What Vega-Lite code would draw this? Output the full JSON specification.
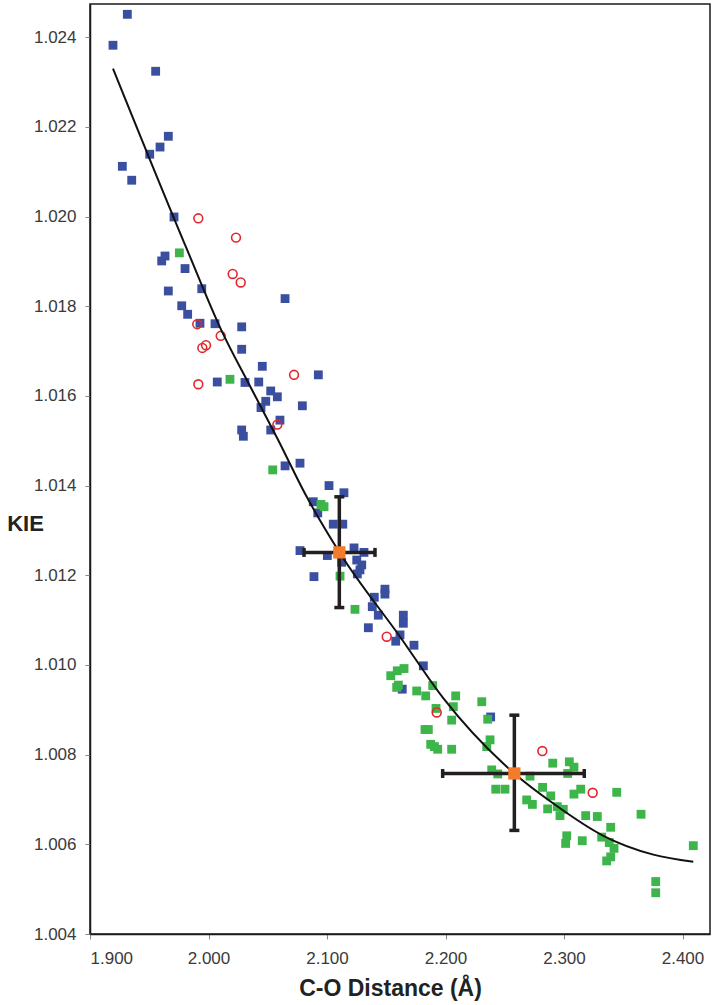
{
  "$schema": "https://vega.github.io/schema/vega-lite/v6.json",
  "width": 620,
  "height": 930,
  "autosize": {"type": "none"},
  "padding": {"left": 90, "top": 4, "right": 6, "bottom": 71},
  "background": "white",
  "config": {
    "font": "Liberation Sans",
    "view": {"stroke": "#1a1a1a", "strokeWidth": 1.5},
    "axis": {
      "grid": false,
      "domainColor": "#1a1a1a",
      "domainWidth": 1.5,
      "tickColor": "#888888",
      "tickSize": 5,
      "labelFont": "Liberation Sans",
      "labelFontSize": 17,
      "labelColor": "#3a3a3a",
      "titleFont": "Liberation Sans",
      "titleFontWeight": "bold",
      "titleColor": "#222222",
      "titleFontSize": 23
    }
  },
  "datasets": {
    "pts": [
      {"d": 1.9315, "k": 1.02451, "s": "A"},
      {"d": 1.9194, "k": 1.02382, "s": "A"},
      {"d": 1.9554, "k": 1.02324, "s": "A"},
      {"d": 1.9661, "k": 1.02179, "s": "A"},
      {"d": 1.9591, "k": 1.02155, "s": "A"},
      {"d": 1.9504, "k": 1.02139, "s": "A"},
      {"d": 1.9273, "k": 1.02112, "s": "A"},
      {"d": 1.9352, "k": 1.02081, "s": "A"},
      {"d": 1.9709, "k": 1.01999, "s": "A"},
      {"d": 1.9633, "k": 1.01912, "s": "A"},
      {"d": 1.9605, "k": 1.01901, "s": "A"},
      {"d": 1.9802, "k": 1.01884, "s": "A"},
      {"d": 1.9661, "k": 1.01834, "s": "A"},
      {"d": 1.9943, "k": 1.01839, "s": "A"},
      {"d": 2.0646, "k": 1.01817, "s": "A"},
      {"d": 1.9774, "k": 1.01801, "s": "A"},
      {"d": 1.9824, "k": 1.01782, "s": "A"},
      {"d": 1.9928, "k": 1.01762, "s": "A"},
      {"d": 2.0055, "k": 1.01761, "s": "A"},
      {"d": 2.0280, "k": 1.01754, "s": "A"},
      {"d": 2.0280, "k": 1.01704, "s": "A"},
      {"d": 2.0454, "k": 1.01666, "s": "A"},
      {"d": 2.0927, "k": 1.01647, "s": "A"},
      {"d": 2.0074, "k": 1.01631, "s": "A"},
      {"d": 2.0308, "k": 1.01630, "s": "A"},
      {"d": 2.0424, "k": 1.01631, "s": "A"},
      {"d": 2.0525, "k": 1.01611, "s": "A"},
      {"d": 2.0581, "k": 1.01598, "s": "A"},
      {"d": 2.0483, "k": 1.01588, "s": "A"},
      {"d": 2.0443, "k": 1.01574, "s": "A"},
      {"d": 2.0792, "k": 1.01578, "s": "A"},
      {"d": 2.0603, "k": 1.01546, "s": "A"},
      {"d": 2.0525, "k": 1.01524, "s": "A"},
      {"d": 2.0280, "k": 1.01524, "s": "A"},
      {"d": 2.0294, "k": 1.01510, "s": "A"},
      {"d": 2.0646, "k": 1.01444, "s": "A"},
      {"d": 2.0772, "k": 1.01450, "s": "A"},
      {"d": 2.1017, "k": 1.01400, "s": "A"},
      {"d": 2.1143, "k": 1.01384, "s": "A"},
      {"d": 2.0884, "k": 1.01364, "s": "A"},
      {"d": 2.0922, "k": 1.01339, "s": "A"},
      {"d": 2.1053, "k": 1.01314, "s": "A"},
      {"d": 2.1133, "k": 1.01314, "s": "A"},
      {"d": 2.0772, "k": 1.01255, "s": "A"},
      {"d": 2.1228, "k": 1.01261, "s": "A"},
      {"d": 2.1312, "k": 1.01251, "s": "A"},
      {"d": 2.1003, "k": 1.01244, "s": "A"},
      {"d": 2.1124, "k": 1.01229, "s": "A"},
      {"d": 2.1251, "k": 1.01234, "s": "A"},
      {"d": 2.1293, "k": 1.01223, "s": "A"},
      {"d": 2.1278, "k": 1.01212, "s": "A"},
      {"d": 2.1256, "k": 1.01203, "s": "A"},
      {"d": 2.0890, "k": 1.01197, "s": "A"},
      {"d": 2.1489, "k": 1.01169, "s": "A"},
      {"d": 2.1489, "k": 1.01158, "s": "A"},
      {"d": 2.1399, "k": 1.01151, "s": "A"},
      {"d": 2.1382, "k": 1.01130, "s": "A"},
      {"d": 2.1433, "k": 1.01111, "s": "A"},
      {"d": 2.1644, "k": 1.01111, "s": "A"},
      {"d": 2.1644, "k": 1.01093, "s": "A"},
      {"d": 2.1349, "k": 1.01083, "s": "A"},
      {"d": 2.1616, "k": 1.01067, "s": "A"},
      {"d": 2.1580, "k": 1.01053, "s": "A"},
      {"d": 2.1734, "k": 1.01044, "s": "A"},
      {"d": 2.1813, "k": 1.00998, "s": "A"},
      {"d": 2.1635, "k": 1.00946, "s": "A"},
      {"d": 2.2381, "k": 1.00884, "s": "A"},
      {"d": 1.9914, "k": 1.01996, "s": "B"},
      {"d": 2.0232, "k": 1.01953, "s": "B"},
      {"d": 2.0204, "k": 1.01872, "s": "B"},
      {"d": 2.0272, "k": 1.01853, "s": "B"},
      {"d": 1.9905, "k": 1.01760, "s": "B"},
      {"d": 2.0103, "k": 1.01734, "s": "B"},
      {"d": 1.9979, "k": 1.01713, "s": "B"},
      {"d": 1.9948, "k": 1.01707, "s": "B"},
      {"d": 2.0722, "k": 1.01647, "s": "B"},
      {"d": 1.9914, "k": 1.01626, "s": "B"},
      {"d": 2.0581, "k": 1.01536, "s": "B"},
      {"d": 2.1504, "k": 1.01063, "s": "B"},
      {"d": 2.1926, "k": 1.00894, "s": "B"},
      {"d": 2.2817, "k": 1.00808, "s": "B"},
      {"d": 2.3242, "k": 1.00715, "s": "B"},
      {"d": 1.9754, "k": 1.01919, "s": "C"},
      {"d": 2.0181, "k": 1.01637, "s": "C"},
      {"d": 2.0542, "k": 1.01435, "s": "C"},
      {"d": 2.0949, "k": 1.01358, "s": "C"},
      {"d": 2.0975, "k": 1.01353, "s": "C"},
      {"d": 2.1110, "k": 1.01198, "s": "C"},
      {"d": 2.1236, "k": 1.01124, "s": "C"},
      {"d": 2.1593, "k": 1.00987, "s": "C"},
      {"d": 2.1650, "k": 1.00992, "s": "C"},
      {"d": 2.1538, "k": 1.00976, "s": "C"},
      {"d": 2.1602, "k": 1.00955, "s": "C"},
      {"d": 2.1588, "k": 1.00950, "s": "C"},
      {"d": 2.1757, "k": 1.00942, "s": "C"},
      {"d": 2.1833, "k": 1.00931, "s": "C"},
      {"d": 2.1892, "k": 1.00954, "s": "C"},
      {"d": 2.2086, "k": 1.00931, "s": "C"},
      {"d": 2.2306, "k": 1.00918, "s": "C"},
      {"d": 2.2066, "k": 1.00907, "s": "C"},
      {"d": 2.1920, "k": 1.00903, "s": "C"},
      {"d": 2.2356, "k": 1.00879, "s": "C"},
      {"d": 2.2052, "k": 1.00877, "s": "C"},
      {"d": 2.1827, "k": 1.00856, "s": "C"},
      {"d": 2.1855, "k": 1.00856, "s": "C"},
      {"d": 2.2376, "k": 1.00833, "s": "C"},
      {"d": 2.1875, "k": 1.00823, "s": "C"},
      {"d": 2.1906, "k": 1.00818, "s": "C"},
      {"d": 2.1934, "k": 1.00812, "s": "C"},
      {"d": 2.2052, "k": 1.00812, "s": "C"},
      {"d": 2.2348, "k": 1.00818, "s": "C"},
      {"d": 2.2905, "k": 1.00781, "s": "C"},
      {"d": 2.3045, "k": 1.00784, "s": "C"},
      {"d": 2.3084, "k": 1.00772, "s": "C"},
      {"d": 2.3031, "k": 1.00758, "s": "C"},
      {"d": 2.2390, "k": 1.00766, "s": "C"},
      {"d": 2.2441, "k": 1.00757, "s": "C"},
      {"d": 2.2713, "k": 1.00752, "s": "C"},
      {"d": 2.2424, "k": 1.00723, "s": "C"},
      {"d": 2.2502, "k": 1.00723, "s": "C"},
      {"d": 2.2819, "k": 1.00727, "s": "C"},
      {"d": 2.2888, "k": 1.00708, "s": "C"},
      {"d": 2.3084, "k": 1.00712, "s": "C"},
      {"d": 2.3141, "k": 1.00723, "s": "C"},
      {"d": 2.3445, "k": 1.00716, "s": "C"},
      {"d": 2.2685, "k": 1.00699, "s": "C"},
      {"d": 2.2733, "k": 1.00689, "s": "C"},
      {"d": 2.2862, "k": 1.00679, "s": "C"},
      {"d": 2.2943, "k": 1.00684, "s": "C"},
      {"d": 2.2994, "k": 1.00678, "s": "C"},
      {"d": 2.2966, "k": 1.00664, "s": "C"},
      {"d": 2.3183, "k": 1.00664, "s": "C"},
      {"d": 2.3281, "k": 1.00662, "s": "C"},
      {"d": 2.3650, "k": 1.00667, "s": "C"},
      {"d": 2.3394, "k": 1.00638, "s": "C"},
      {"d": 2.3023, "k": 1.00619, "s": "C"},
      {"d": 2.3014, "k": 1.00602, "s": "C"},
      {"d": 2.3154, "k": 1.00608, "s": "C"},
      {"d": 2.3318, "k": 1.00616, "s": "C"},
      {"d": 2.3382, "k": 1.00604, "s": "C"},
      {"d": 2.3422, "k": 1.00591, "s": "C"},
      {"d": 2.3394, "k": 1.00572, "s": "C"},
      {"d": 2.3360, "k": 1.00563, "s": "C"},
      {"d": 2.4091, "k": 1.00597, "s": "C"},
      {"d": 2.3774, "k": 1.00517, "s": "C"},
      {"d": 2.3774, "k": 1.00492, "s": "C"}
    ],
    "fit": [
      {"d": 1.9194, "k": 1.02330},
      {"d": 1.9821, "k": 1.01925},
      {"d": 2.0111, "k": 1.01745},
      {"d": 2.0350, "k": 1.01622},
      {"d": 2.0576, "k": 1.01508},
      {"d": 2.0829, "k": 1.01375},
      {"d": 2.1110, "k": 1.01249},
      {"d": 2.1616, "k": 1.01063},
      {"d": 2.1981, "k": 1.00926},
      {"d": 2.2581, "k": 1.00758},
      {"d": 2.2910, "k": 1.00691},
      {"d": 2.3332, "k": 1.00619},
      {"d": 2.3754, "k": 1.00577},
      {"d": 2.4091, "k": 1.00561}
    ],
    "avg": [
      {"d": 2.1104, "k": 1.01251, "dlo": 2.0806, "dhi": 2.1405, "klo": 1.01128, "khi": 1.01375},
      {"d": 2.2581, "k": 1.00758, "dlo": 2.1976, "dhi": 2.3171, "klo": 1.00631, "khi": 1.00888}
    ]
  },
  "layer": [
    {
      "data": {"name": "pts"},
      "transform": [{"filter": "datum.s !== 'B'"}],
      "mark": {"type": "point", "shape": "square", "filled": true, "size": 78, "opacity": 1},
      "encoding": {
        "x": {
          "field": "d", "type": "quantitative",
          "scale": {"domain": [1.9, 2.4232], "nice": false, "zero": false},
          "axis": {
            "title": "C-O Distance (Å)",
            "values": [1.9, 2.0, 2.1, 2.2, 2.3, 2.4],
            "format": ".3f",
            "labelPadding": 11,
            "titleX": 300,
            "titleY": 61,
            "titleAlign": "center",
            "titleBaseline": "alphabetic"
          }
        },
        "y": {
          "field": "k", "type": "quantitative",
          "scale": {"domain": [1.004, 1.02474], "nice": false, "zero": false},
          "axis": {
            "title": "KIE",
            "values": [1.004, 1.006, 1.008, 1.010, 1.012, 1.014, 1.016, 1.018, 1.020, 1.022, 1.024],
            "format": ".3f",
            "labelPadding": 9,
            "titleAngle": 0,
            "titleX": -65,
            "titleY": 526,
            "titleAlign": "center",
            "titleBaseline": "alphabetic",
            "titleFontSize": 22
          }
        },
        "color": {
          "field": "s", "type": "nominal",
          "scale": {"domain": ["A", "B", "C"], "range": ["#3B4FA1", "#E2262B", "#3DB54A"]},
          "legend": null
        }
      }
    },
    {
      "data": {"name": "pts"},
      "transform": [{"filter": "datum.s === 'B'"}],
      "mark": {"type": "point", "shape": "circle", "filled": false, "size": 78, "strokeWidth": 1.6, "opacity": 1},
      "encoding": {
        "x": {"field": "d", "type": "quantitative"},
        "y": {"field": "k", "type": "quantitative"},
        "color": {"field": "s", "type": "nominal", "legend": null}
      }
    },
    {
      "data": {"name": "fit"},
      "mark": {"type": "line", "color": "#111111", "strokeWidth": 2, "interpolate": "monotone"},
      "encoding": {
        "x": {"field": "d", "type": "quantitative"},
        "y": {"field": "k", "type": "quantitative"}
      }
    },
    {
      "data": {"name": "avg"},
      "mark": {"type": "rule", "color": "#231F20", "strokeWidth": 3.5},
      "encoding": {
        "x": {"field": "d", "type": "quantitative"},
        "y": {"field": "klo", "type": "quantitative"},
        "y2": {"field": "khi"}
      }
    },
    {
      "data": {"name": "avg"},
      "mark": {"type": "rule", "color": "#231F20", "strokeWidth": 3.5},
      "encoding": {
        "x": {"field": "dlo", "type": "quantitative"},
        "x2": {"field": "dhi"},
        "y": {"field": "k", "type": "quantitative"}
      }
    },
    {
      "data": {"name": "avg"},
      "transform": [{"fold": ["klo", "khi"], "as": ["end", "capk"]}],
      "mark": {"type": "tick", "orient": "horizontal", "color": "#231F20", "size": 10, "thickness": 3.5, "opacity": 1},
      "encoding": {
        "x": {"field": "d", "type": "quantitative"},
        "y": {"field": "capk", "type": "quantitative"}
      }
    },
    {
      "data": {"name": "avg"},
      "transform": [{"fold": ["dlo", "dhi"], "as": ["end", "capd"]}],
      "mark": {"type": "tick", "orient": "vertical", "color": "#231F20", "size": 9, "thickness": 3.5, "opacity": 1},
      "encoding": {
        "x": {"field": "capd", "type": "quantitative"},
        "y": {"field": "k", "type": "quantitative"}
      }
    },
    {
      "data": {"name": "avg"},
      "mark": {"type": "point", "shape": "square", "filled": true, "size": 150, "color": "#F37B2A", "opacity": 1},
      "encoding": {
        "x": {"field": "d", "type": "quantitative"},
        "y": {"field": "k", "type": "quantitative"}
      }
    }
  ]
}
